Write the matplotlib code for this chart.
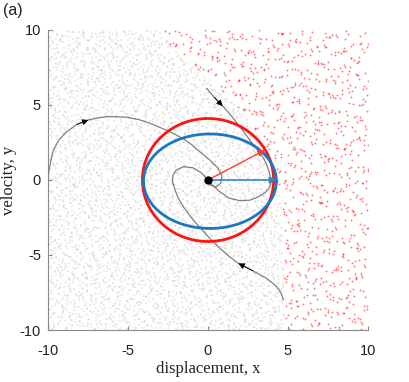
import numpy as np
import matplotlib
matplotlib.use("Agg")
import matplotlib.pyplot as plt
from matplotlib.patches import FancyArrowPatch

plt.rcParams['axes.unicode_minus'] = False

# ---------------- data ----------------
# boundary between "safe" (grey) and "unsafe" (red) sample regions: x_left(y)
boundary_y = [-10, -5, -2, 0, 1, 2, 3, 4, 5, 6, 7, 8, 9, 10]
boundary_x = [4.8, 4.7, 4.6, 4.4, 4.1, 3.7, 3.1, 2.5, 1.7, 0.9, -0.2, -1.4, -2.4, -3.0]

traj1_x = [-10.0, -9.93, -9.8, -9.67, -9.3, -8.83, -8.2, -7.48, -6.9, -6.33, -5.7,
           -5.08, -4.3, -3.62, -2.9, -2.17, -1.6, -1.12, -0.5, 0.12, 0.62, 0.87,
           0.81, 0.5, 0.12, 0.0]
traj1_y = [0.0, 0.7, 1.4, 2.0, 2.7, 3.22, 3.7, 4.0, 4.14, 4.22, 4.22,
           4.18, 4.02, 3.78, 3.46, 3.11, 2.78, 2.44, 1.87, 1.33, 0.8, 0.27,
           -0.2, -0.47, -0.33, 0.0]

traj2_x = [-0.08, 0.4, 0.92, 1.4, 1.8, 2.25, 2.6, 3.0, 3.35, 3.62, 3.82, 3.95,
           3.85, 3.56, 3.1, 2.6, 2.0, 1.3, 0.7, 0.25, 0.0]
traj2_y = [6.1, 5.5, 4.93, 4.35, 3.8, 3.2, 2.67, 2.15, 1.67, 1.15, 0.55, -0.1,
           -0.5, -0.85, -1.15, -1.35, -1.38, -1.2, -0.75, -0.3, 0.0]

traj3_x = [4.71, 4.55, 4.29, 3.95, 3.67, 2.8, 1.9, 1.3, 0.75, 0.32, -0.08, -0.5,
           -0.92, -1.25, -1.54, -1.85, -2.06, -2.22, -2.2, -2.0, -1.54, -0.95,
           -0.45, -0.12, 0.0]
traj3_y = [-7.95, -7.5, -7.11, -6.8, -6.56, -6.05, -5.56, -5.08, -4.56, -4.12,
           -3.67, -3.17, -2.67, -2.22, -1.78, -1.22, -0.67, -0.1, 0.3, 0.65,
           0.89, 0.82, 0.5, 0.15, 0.0]

# circle / ellipse parameters (data units)
red_radius = 4.1
blue_center = (0.12, -0.08)
blue_semi = (4.15, 3.15)
red_vec = (3.56, 2.0)
blue_vec = (4.3, 0.0)

xticks = [-10, -5, 0, 5, 10]
yticks = [-10, -5, 0, 5, 10]


# ---------------- sample clouds (deterministic low-discrepancy texture) ----------------
def halton(n, base, skip=20):
    out = np.empty(n)
    for k in range(n):
        i = k + skip
        f, r = 1.0, 0.0
        while i > 0:
            f /= base
            r += f * (i % base)
            i //= base
        out[k] = r
    return out


def cloud(n, skip):
    # 4-D Halton: two coordinates plus a jitter that breaks the lattice look
    jit = 2.2 / np.sqrt(n)
    u = (halton(n, 2, skip) + jit * (halton(n, 5, skip) - 0.5)) % 1.0
    v = (halton(n, 3, skip) + jit * (halton(n, 7, skip) - 0.5)) % 1.0
    return -10 + 20 * u, -10 + 20 * v


sx, sy = cloud(7000, 37)
safe = sx < np.interp(sy, boundary_y, boundary_x)

rx, ry = cloud(2600, 4001)
unsafe = rx > np.interp(ry, boundary_y, boundary_x)

# ---------------- figure ----------------
fig = plt.figure(figsize=(4.09, 3.82), dpi=100)
ax = fig.add_axes([48 / 409, 52 / 382, 320 / 409, 300 / 382])

ax.scatter(sx[safe], sy[safe], s=0.9, marker='s', c='#d2cec6', alpha=0.38,
           linewidths=0, zorder=1)
ax.scatter(rx[unsafe], ry[unsafe], s=1.8, marker='o', c='#ff2020', alpha=0.6,
           linewidths=0, zorder=1)

gray = '#808080'
for tx, ty in [(traj1_x, traj1_y), (traj2_x, traj2_y), (traj3_x, traj3_y)]:
    ax.plot(tx, ty, color=gray, lw=0.9, zorder=3)


def line_arrow(tx, ty, k):
    a = FancyArrowPatch((tx[k - 1], ty[k - 1]), (tx[k], ty[k]),
                        arrowstyle='-|>', mutation_scale=9, color='black',
                        lw=0.6, zorder=4, shrinkA=0, shrinkB=0)
    ax.add_patch(a)


line_arrow(traj1_x, traj1_y, 7)
line_arrow(traj2_x, traj2_y, 2)
line_arrow(traj3_x, traj3_y, 6)

t = np.linspace(0, 2 * np.pi, 400)
ax.plot(red_radius * np.cos(t), red_radius * np.sin(t), color='#ff1414', lw=2.0, zorder=5)
ax.plot(blue_center[0] + blue_semi[0] * np.cos(t), blue_center[1] + blue_semi[1] * np.sin(t),
        color='#1a78c2', lw=2.0, zorder=5)

ax.add_patch(FancyArrowPatch((0, 0), red_vec, arrowstyle='-|>', mutation_scale=10,
                             color='#ff3a3a', lw=1.0, zorder=6, shrinkA=0, shrinkB=0))
ax.add_patch(FancyArrowPatch((0, 0), blue_vec, arrowstyle='-|>', mutation_scale=10,
                             color='#2b88cc', lw=1.2, zorder=6, shrinkA=0, shrinkB=0))
ax.plot([0], [0], 'o', color='black', ms=5, zorder=7)

ax.set_xlim(-10, 10)
ax.set_ylim(-10, 10)
ax.set_xticks(xticks)
ax.set_yticks(yticks)
ax.set_xticklabels([str(v) for v in xticks])
ax.set_yticklabels([str(v) for v in yticks])
for s in ['top', 'right']:
    ax.spines[s].set_visible(False)
for s in ['left', 'bottom']:
    ax.spines[s].set_color('#8a8a8a')
    ax.spines[s].set_linewidth(0.8)
ax.tick_params(direction='in', length=3, width=0.8, color='#8a8a8a',
               labelsize=10.5, labelcolor='#222222')
ax.tick_params(axis='x', pad=10)
ax.tick_params(axis='y', pad=5)
for lab in ax.get_xticklabels() + ax.get_yticklabels():
    lab.set_family('Liberation Sans')

ax.set_xlabel('displacement, x', family='Liberation Serif', fontsize=12, color='#222222',
              labelpad=2)
ax.set_ylabel('velocity, y', family='Liberation Serif', fontsize=12, color='#222222',
              labelpad=2)
fig.text(3 / 409, 1 - 3 / 382, '(a)', family='Liberation Sans', fontsize=11.5,
         va='top', ha='left', color='#222222')

fig.savefig('out.png', dpi=100)
